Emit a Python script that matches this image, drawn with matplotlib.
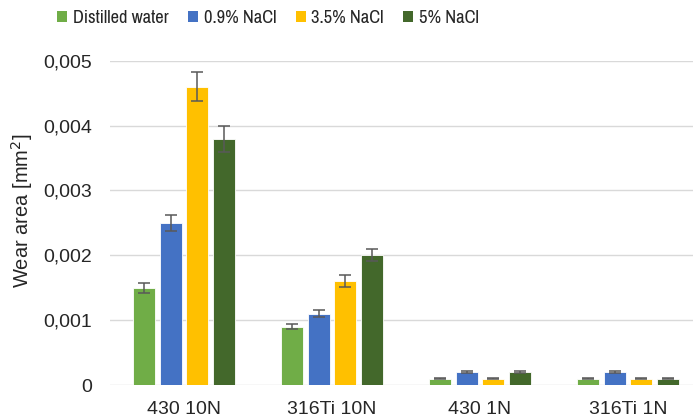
import matplotlib
matplotlib.use("Agg")
import matplotlib.pyplot as plt
import numpy as np
from matplotlib.patches import Patch
from matplotlib.ticker import FixedLocator, FuncFormatter

categories = ["430 10N", "316Ti 10N", "430 1N", "316Ti 1N"]
series_names = ["Distilled water", "0.9% NaCl", "3.5% NaCl", "5% NaCl"]
distilled = [0.0015, 0.0009, 0.0001, 0.0001]
nacl_09 = [0.0025, 0.0011, 0.0002, 0.0002]
nacl_35 = [0.0046, 0.0016, 0.0001, 0.0001]
nacl_5 = [0.0038, 0.0020, 0.0002, 0.0001]
err_distilled = [0.00008, 0.00004, 0.00001, 0.00001]
err_09 = [0.00012, 0.00005, 0.00001, 0.00001]
err_35 = [0.00022, 0.00009, 0.00001, 0.00001]
err_5 = [0.00020, 0.00009, 0.00001, 0.00001]
y_ticks = [0, 0.001, 0.002, 0.003, 0.004, 0.005]

colors = ["#70AD47", "#4472C4", "#FFC000", "#43682B"]
values = [distilled, nacl_09, nacl_35, nacl_5]
errors = [err_distilled, err_09, err_35, err_5]

W, H = 693, 418
plt.rcParams["font.family"] = ["Liberation Sans", "DejaVu Sans"]
fig = plt.figure(figsize=(W / 100, H / 100), dpi=100)

left, right = 110, 702
bottom, top = 385, 60.7
ax = fig.add_axes([left / W, (H - bottom) / H, (right - left) / W, (bottom - top) / H])

x = np.arange(len(categories))
step = 0.18
width = 0.148
offsets = [-1.5 * step, -0.5 * step, 0.5 * step, 1.5 * step]
for vals, errs, col, off in zip(values, errors, colors, offsets):
    ax.bar(x + off, vals, width=width, color=col, edgecolor="white", linewidth=0.6,
           yerr=errs, error_kw=dict(ecolor="#595959", elinewidth=1.1, capsize=4, capthick=1.1),
           zorder=3)

ax.set_xlim(-0.5, 3.5)
ax.set_ylim(0, 0.005)
ax.yaxis.set_major_locator(FixedLocator(y_ticks))
ax.yaxis.set_major_formatter(FuncFormatter(lambda v, p: "0" if v == 0 else f"{v:.3f}".replace(".", ",")))
ax.grid(axis="y", color="#D9D9D9", linewidth=1.0, zorder=0)
ax.set_axisbelow(True)
for s in ax.spines.values():
    s.set_visible(False)
ax.tick_params(axis="both", length=0, labelsize=14, labelcolor="#262626")
ax.tick_params(axis="y", pad=13)
ax.tick_params(axis="x", pad=11.5)
ax.set_xticks(x)
ax.set_xticklabels(categories)

fig.text(22 / W, 1 - 211 / H, "Wear area [mm$^2$]", rotation=90, ha="center", va="center",
         fontsize=14.5, color="#262626")

handles = [Patch(facecolor=c, edgecolor="none") for c in colors]
fig.legend(handles, series_names, loc="center", bbox_to_anchor=(268 / W, 1 - 18 / H),
           ncol=4, frameon=False, prop={"family": "Archivo Narrow", "size": 13.3},
           handlelength=0.55, handleheight=0.55, handletextpad=0.3, columnspacing=1.05,
           labelcolor="#262626")

fig.savefig("out.png", dpi=100)
